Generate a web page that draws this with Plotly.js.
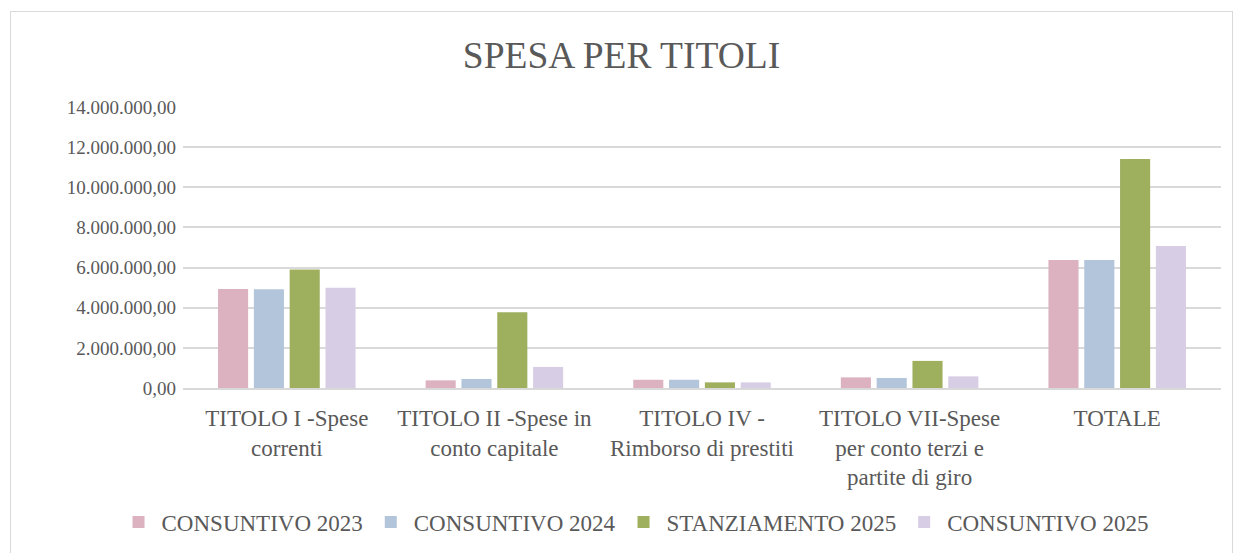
<!DOCTYPE html>
<html>
<head>
<meta charset="utf-8">
<script src="https://cdn.plot.ly/plotly-3.0.1.min.js"></script>
<style>
  html, body { margin: 0; padding: 0; background: #fff; overflow: hidden; }
  #frame { position: absolute; left: 10px; top: 11px; width: 1221px; height: 570px; border: 1px solid #d9d9d9; }
  #chart { width: 1221px; height: 570px; }
</style>
</head>
<body>
<div id="frame"><div id="chart"></div></div>
<script>
    const categories = ['TITOLO I -Spese<br>correnti', 'TITOLO II -Spese in<br>conto capitale', 'TITOLO IV -<br>Rimborso di prestiti', 'TITOLO VII-Spese<br>per conto terzi e<br>partite di giro', 'TOTALE'];

    const consuntivo2023 = [4930000, 380000, 410000, 530000, 6380000];
    const consuntivo2024 = [4920000, 450000, 410000, 500000, 6380000];
    const stanziamento2025 = [5910000, 3770000, 280000, 1350000, 11410000];
    const consuntivo2025 = [5000000, 1050000, 280000, 580000, 7070000];

    const seriesNames = ['CONSUNTIVO 2023', 'CONSUNTIVO 2024', 'STANZIAMENTO 2025', 'CONSUNTIVO 2025'];
    const seriesColors = ['#dcb2c0', '#b3c5db', '#9eaf5e', '#d7cde5'];
    const seriesValues = [consuntivo2023, consuntivo2024, stanziamento2025, consuntivo2025];

    const traces = seriesValues.map(function(vals, i) {
        return {
            x: categories,
            y: vals,
            type: 'bar',
            name: seriesNames[i],
            marker: {color: seriesColors[i]},
            hoverinfo: 'y'
        };
    });

    const font = 'Liberation Serif, Times New Roman, serif';

    // chart is 570 tall, plot area spans y 95..376 inside it
    const layout = {
        title: {
            text: 'SPESA PER TITOLI',
            font: {family: font, size: 37.5, color: '#595959'},
            x: 0.5,
            xanchor: 'center',
            y: 1 - 43 / 570,
            yanchor: 'middle'
        },
        separators: ',.',
        font: {family: font, size: 19, color: '#595959'},
        barmode: 'group',
        bargap: 0.31,
        bargroupgap: 0.16,
        margin: {l: 172, r: 11, t: 95, b: 194},
        paper_bgcolor: 'rgba(0,0,0,0)',
        plot_bgcolor: '#fff',
        xaxis: {
            tickfont: {family: font, size: 23, color: '#595959'},
            showline: true,
            linecolor: '#d9d9d9',
            linewidth: 2,
            ticks: '',
            ticklabelstandoff: 8
        },
        yaxis: {
            range: [0, 14000000],
            dtick: 2000000,
            tickformat: ',.2f',
            tickfont: {family: font, size: 19, color: '#595959'},
            gridcolor: '#d9d9d9',
            gridwidth: 1.6,
            zeroline: false,
            ticks: '',
            ticklabelstandoff: 6
        },
        legend: {
            orientation: 'h',
            x: 0.435,
            xanchor: 'center',
            y: -0.477,
            yanchor: 'middle',
            font: {family: font, size: 23, color: '#595959'},
            itemwidth: 36,
            traceorder: 'normal'
        },
        showlegend: true
    };

    Plotly.newPlot('chart', traces, layout, {displayModeBar: false});
</script>
</body>
</html>
